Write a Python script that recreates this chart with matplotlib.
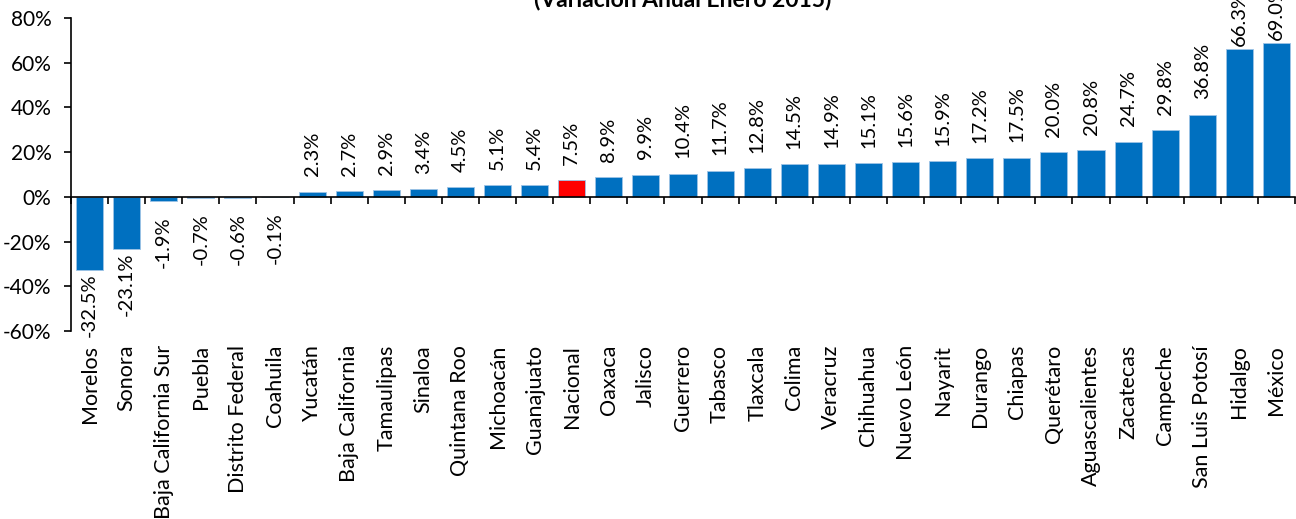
import matplotlib
matplotlib.use("Agg")
import matplotlib.pyplot as plt
from matplotlib.ticker import FuncFormatter, MultipleLocator
import numpy as np

categories = ["Morelos", "Sonora", "Baja California Sur", "Puebla", "Distrito Federal",
              "Coahuila", "Yucatán", "Baja California", "Tamaulipas", "Sinaloa",
              "Quintana Roo", "Michoacán", "Guanajuato", "Nacional", "Oaxaca", "Jalisco",
              "Guerrero", "Tabasco", "Tlaxcala", "Colima", "Veracruz", "Chihuahua",
              "Nuevo León", "Nayarit", "Durango", "Chiapas", "Querétaro", "Aguascalientes",
              "Zacatecas", "Campeche", "San Luis Potosí", "Hidalgo", "México"]
values = [-32.5, -23.1, -1.9, -0.7, -0.6, -0.1, 2.3, 2.7, 2.9, 3.4, 4.5, 5.1, 5.4, 7.5,
          8.9, 9.9, 10.4, 11.7, 12.8, 14.5, 14.9, 15.1, 15.6, 15.9, 17.2, 17.5, 20.0,
          20.8, 24.7, 29.8, 36.8, 66.3, 69.0]
highlight = "Nacional"
title = "(Variación Anual Enero 2015)"

plt.rcParams['font.family'] = ['Lato', 'DejaVu Sans']

W, H = 1296, 519
fig = plt.figure(figsize=(W / 100, H / 100), dpi=100)
left, right, top, bottom = 71, 1295, 18, 331
ax = fig.add_axes([left / W, 1 - bottom / H, (right - left) / W, (bottom - top) / H])

x = np.arange(len(categories))
colors = ["#FF0000" if c == highlight else "#0070C0" for c in categories]
ax.bar(x, values, width=0.73, color=colors, edgecolor="#9DC3E6", linewidth=0.6, zorder=2)

ax.set_xlim(-0.5, len(categories) - 0.5)
ax.set_ylim(-60, 80)
ax.yaxis.set_major_locator(MultipleLocator(20))
ax.yaxis.set_major_formatter(FuncFormatter(lambda v, p: f"{v:.0f}%"))
ax.tick_params(axis='y', labelsize=15, length=5, width=1.2, direction='out',
               color='black', pad=9)

for s in ['top', 'right']:
    ax.spines[s].set_visible(False)
ax.spines['left'].set_linewidth(1.2)
ax.spines['bottom'].set_position(('data', 0))
ax.spines['bottom'].set_linewidth(1.2)
ax.spines['bottom'].set_zorder(3)

ax.set_xticks(np.arange(len(categories) + 1) - 0.5)
ax.set_xticklabels([])
ax.tick_params(axis='x', length=5, width=1.2, direction='out')

for i, (c, v) in enumerate(zip(categories, values)):
    ax.annotate(c, xy=(i, 0), xycoords=('data', 'axes fraction'), xytext=(0, -10),
                textcoords='offset points', rotation=90, ha='center', va='top', fontsize=15.5)
    if v >= 0:
        gap = 2 if v > 60 else 11
        ax.annotate(f"{v:.1f}%", xy=(i, v), xytext=(0, gap), textcoords='offset points',
                    rotation=90, ha='center', va='bottom', fontsize=14.5, annotation_clip=False)
    else:
        gap = 3 if v < -20 else 11
        ax.annotate(f"{v:.1f}%", xy=(i, v), xytext=(0, -gap), textcoords='offset points',
                    rotation=90, ha='center', va='top', fontsize=14.5, annotation_clip=False)

fig.text((left + right) / 2 / W, 1 - 0 / H, title, ha='center', va='center',
         fontsize=16.5, fontweight='bold')

fig.savefig("out.png", dpi=100)
